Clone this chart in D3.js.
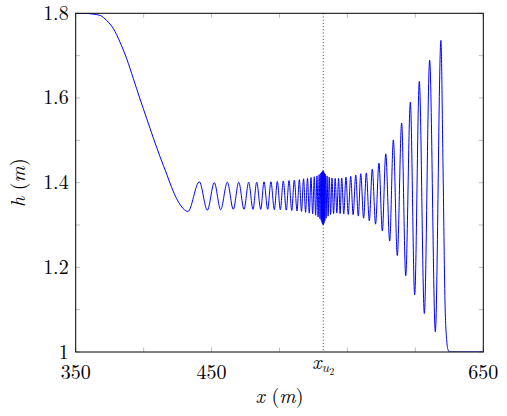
<!DOCTYPE html>
<html>
<head>
<meta charset="utf-8">
<script src="https://cdn.jsdelivr.net/npm/d3@7"></script>
<style>
  body { margin: 0; background: #fff; }
  svg text { font-family: "Latin Modern Roman", "CMU Serif", "Liberation Serif", serif; fill: #000; }
</style>
</head>
<body>
<div class="Chart"></div>
<script>
// size of the picture and the plot box inside it
const WIDTH = 507;
const HEIGHT = 416;
const MARGIN = { left: 75.7, right: 23.7, top: 13.3, bottom: 64 };

// smooth drop of the water level from the reservoir
const dropX = [350, 356, 363, 368, 372.8, 377.7, 382.6, 387.5, 392.4, 397.3, 402.2, 407.1, 412, 417, 420.6, 424.3, 427.5, 430];
const dropH = [1.8, 1.8, 1.798, 1.795, 1.783, 1.764, 1.732, 1.693, 1.646, 1.598, 1.552, 1.506, 1.462, 1.42, 1.389, 1.362, 1.345, 1.336];

// crests of the undular bore
const peakX = [441.0, 452.0, 461.6, 470.0, 477.3, 483.2, 488.6, 493.7, 498.4, 502.8, 507.0, 510.9, 514.6, 517.7, 520.6,
  523.2, 525.6, 527.6, 529.2, 530.4, 531.0, 531.5, 532.0, 532.5, 533.0, 533.7, 535.0, 536.6, 538.6, 541.0, 543.5,
  545.8, 548.9, 552.4, 556.1, 559.8, 563.9, 568.3, 573.2, 578.2, 583.8, 589.9, 596.3, 602.9, 610.5, 618.8];
const peakH = [1.402, 1.400, 1.401, 1.401, 1.401, 1.401, 1.402, 1.402, 1.403, 1.404, 1.405, 1.406, 1.407, 1.409, 1.410,
  1.412, 1.414, 1.416, 1.419, 1.422, 1.424, 1.426, 1.428, 1.426, 1.423, 1.420, 1.416, 1.413, 1.411, 1.410, 1.410,
  1.411, 1.413, 1.415, 1.418, 1.421, 1.423, 1.432, 1.446, 1.468, 1.501, 1.541, 1.590, 1.639, 1.689, 1.736];

// troughs between the crests
const troughX = [432.6, 446.9, 456.7, 466.0, 473.9, 480.5, 486.2, 491.3, 496.2, 500.6, 505.0, 509.0, 512.9, 516.2, 519.2,
  521.9, 524.4, 526.6, 528.4, 529.8, 530.7, 531.25, 531.75, 532.25, 532.75, 533.35, 534.3, 535.8, 537.6, 539.8, 542.2,
  544.6, 547.3, 550.6, 554.2, 558.0, 561.9, 566.1, 570.7, 575.7, 581.1, 586.7, 592.9, 599.5, 606.6, 614.7];
const troughH = [1.332, 1.335, 1.336, 1.337, 1.337, 1.337, 1.337, 1.337, 1.336, 1.336, 1.335, 1.334, 1.333, 1.332, 1.330,
  1.328, 1.326, 1.323, 1.319, 1.315, 1.311, 1.306, 1.302, 1.300, 1.304, 1.310, 1.316, 1.321, 1.325, 1.327, 1.328,
  1.327, 1.326, 1.325, 1.324, 1.321, 1.316, 1.310, 1.302, 1.286, 1.262, 1.228, 1.180, 1.135, 1.091, 1.048];

// front of the bore down to the still water downstream
const frontX = [620.3, 621.8, 623.1, 624.2, 625.2, 650];
const frontH = [1.45, 1.12, 1.026, 1.004, 1.0, 1.0];

// axes
const xTicks = [350, 400, 450, 500, 550, 600, 650];
const xLabels = ["350", "", "450", "", "", "", "650"];
const yTicks = [1, 1.1, 1.2, 1.3, 1.4, 1.5, 1.6, 1.7, 1.8];
const yLabels = ["1", "", "1.2", "", "1.4", "", "1.6", "", "1.8"];
const XU2 = 532.2;

const SVG = d3
  .select(".Chart")
  .append("svg")
  .attr("width", WIDTH)
  .attr("height", HEIGHT);

const X = d3.scaleLinear().domain([350, 650]).range([MARGIN.left, WIDTH - MARGIN.right]);
const Y = d3.scaleLinear().domain([1, 1.8]).range([HEIGHT - MARGIN.bottom, MARGIN.top]);

const X0 = X.range()[0], X1 = X.range()[1];
const Y0 = Y.range()[0], Y1 = Y.range()[1];

// merge all pieces into one profile, sorted along x
var pts = [];
dropX.forEach((x, i) => pts.push([x, dropH[i]]));
peakX.forEach((x, i) => pts.push([x, peakH[i]]));
troughX.forEach((x, i) => pts.push([x, troughH[i]]));
frontX.forEach((x, i) => pts.push([x, frontH[i]]));
pts.sort((a, b) => a[0] - b[0]);

// gray tick marks pointing into the box, on all four sides
const TICKLEN = 4.5;
const TICKS = SVG.append("g").attr("stroke", "#b0b0b0").attr("stroke-width", 0.8);
xTicks.forEach((t) => {
  TICKS.append("line").attr("x1", X(t)).attr("x2", X(t)).attr("y1", Y0).attr("y2", Y0 - TICKLEN);
  TICKS.append("line").attr("x1", X(t)).attr("x2", X(t)).attr("y1", Y1).attr("y2", Y1 + TICKLEN);
});
yTicks.forEach((t) => {
  TICKS.append("line").attr("x1", X0).attr("x2", X0 + TICKLEN).attr("y1", Y(t)).attr("y2", Y(t));
  TICKS.append("line").attr("x1", X1).attr("x2", X1 - TICKLEN).attr("y1", Y(t)).attr("y2", Y(t));
});

// dotted marker at x_u2
SVG.append("line")
  .attr("x1", X(XU2)).attr("x2", X(XU2))
  .attr("y1", Y1).attr("y2", Y0)
  .attr("stroke", "#333")
  .attr("stroke-width", 0.9)
  .attr("stroke-dasharray", "1,2.2");

SVG.append("clipPath").attr("id", "box")
  .append("rect").attr("x", X0).attr("y", Y1).attr("width", X1 - X0).attr("height", Y0 - Y1);

const LINE = d3.line()
  .x((d) => X(d[0]))
  .y((d) => Y(d[1]))
  .curve(d3.curveMonotoneX);

SVG.append("path")
  .datum(pts)
  .attr("clip-path", "url(#box)")
  .attr("fill", "none")
  .attr("stroke", "#0000ff")
  .attr("stroke-width", 1)
  .attr("d", LINE);

// frame
SVG.append("rect")
  .attr("x", X0).attr("y", Y1)
  .attr("width", X1 - X0).attr("height", Y0 - Y1)
  .attr("fill", "none")
  .attr("stroke", "#000")
  .attr("stroke-width", 1);

// tick labels
const FS = 20;
xTicks.forEach((t, i) => {
  if (!xLabels[i]) return;
  SVG.append("text")
    .attr("x", X(t)).attr("y", Y0 + 27)
    .attr("text-anchor", "middle")
    .attr("font-size", FS)
    .text(xLabels[i]);
});
yTicks.forEach((t, i) => {
  if (!yLabels[i]) return;
  SVG.append("text")
    .attr("x", X0 - 7).attr("y", Y(t) + 6.5)
    .attr("text-anchor", "end")
    .attr("font-size", FS)
    .text(yLabels[i]);
});

// x_{u_2} label under the dotted line
const XU = SVG.append("text")
  .attr("x", X(XU2)).attr("y", Y0 + 17)
  .attr("text-anchor", "middle")
  .attr("font-size", FS);
XU.append("tspan").attr("font-style", "italic").text("x");
XU.append("tspan").attr("font-style", "italic").attr("font-size", 14).attr("dy", 3).text("u");
XU.append("tspan").attr("font-size", 10).attr("dy", 3).text("2");

// axis titles
const XT = SVG.append("text")
  .attr("x", (X0 + X1) / 2).attr("y", HEIGHT - 13)
  .attr("text-anchor", "middle")
  .attr("font-size", FS);
XT.append("tspan").attr("font-style", "italic").text("x");
XT.append("tspan").text(" (");
XT.append("tspan").attr("font-style", "italic").text("m");
XT.append("tspan").text(")");

const YT = SVG.append("text")
  .attr("transform", `translate(25,${(Y0 + Y1) / 2}) rotate(-90)`)
  .attr("text-anchor", "middle")
  .attr("font-size", FS);
YT.append("tspan").attr("font-style", "italic").text("h");
YT.append("tspan").text(" (");
YT.append("tspan").attr("font-style", "italic").text("m");
YT.append("tspan").text(")");
</script>
</body>
</html>
